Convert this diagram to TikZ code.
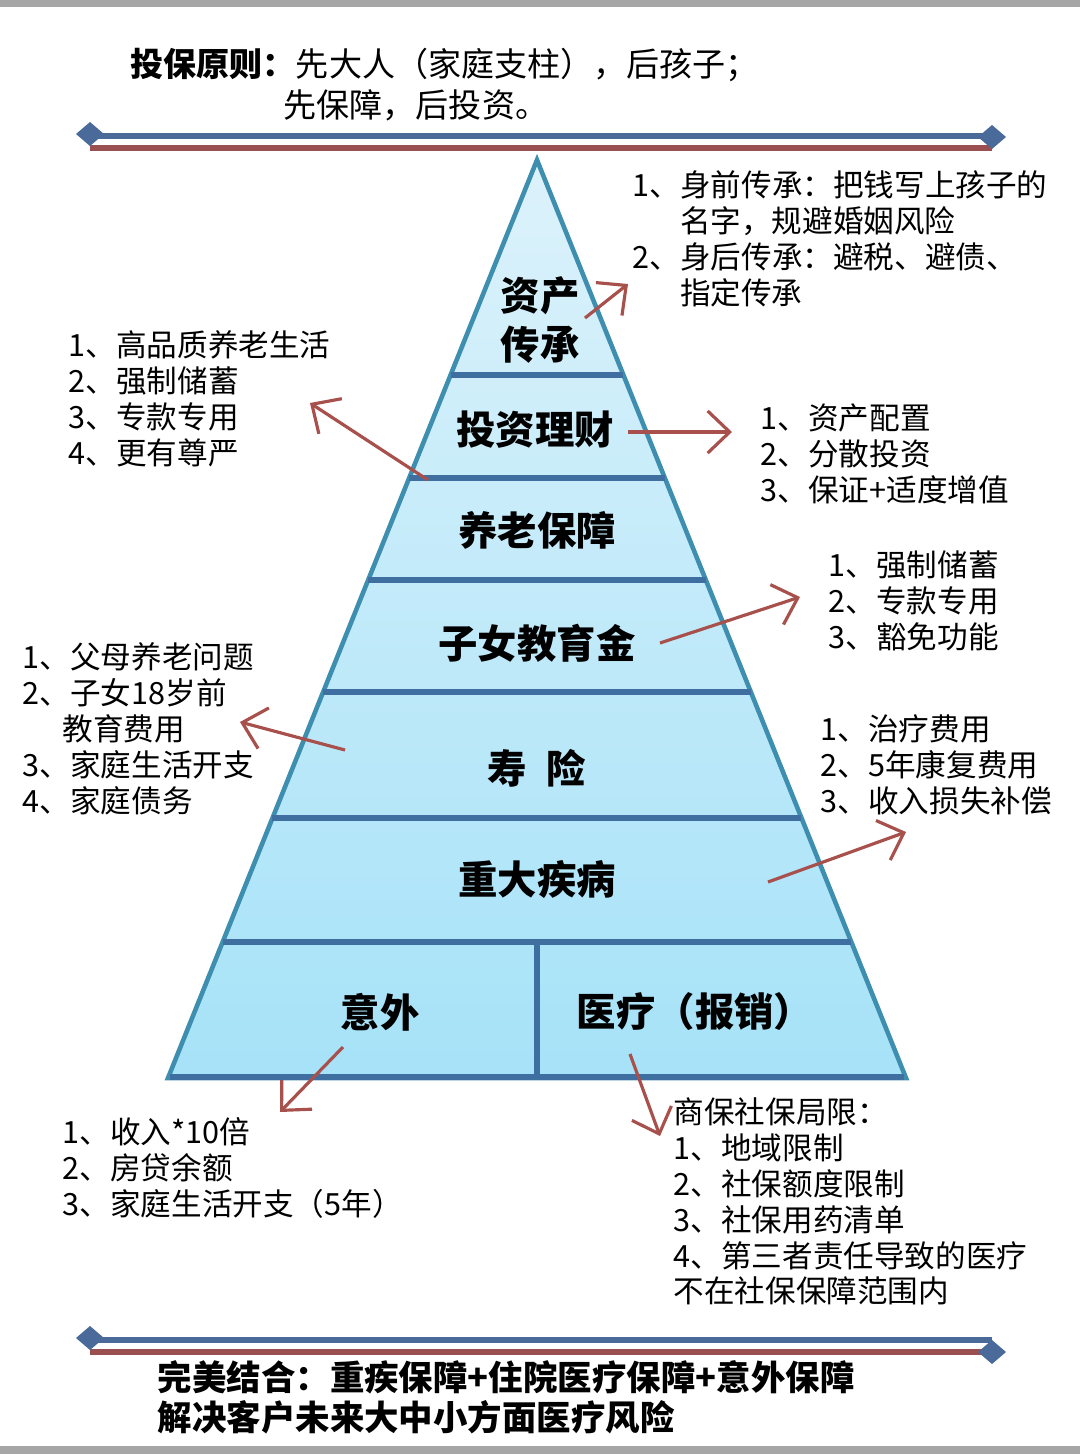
\documentclass[tikz,border=0pt]{standalone}
\usepackage{fontspec}
\newfontfamily\cjk{Noto Sans CJK SC}
\usetikzlibrary{arrows.meta,calc}
\definecolor{lb}{HTML}{4A6A9A}
\definecolor{lr}{HTML}{9A5050}
\definecolor{ar}{HTML}{A8504C}
\definecolor{edge}{HTML}{3E8EB0}
\definecolor{sep}{HTML}{3F6FA0}
\definecolor{ptop}{HTML}{DCF2FB}
\definecolor{pbot}{HTML}{A6E2F8}
\begin{document}
\begin{tikzpicture}[x=0.01cm,y=-0.01cm,
  lst/.style={font=\cjk\fontsize{8.7}{10.2}\selectfont,align=left,anchor=north west,inner sep=0pt},
  lab/.style={font=\cjk\bfseries\fontsize{11.2}{13.2}\selectfont,inner sep=0pt},
  arr/.style={draw=ar,line width=0.9pt,-{Straight Barb[length=2.2mm,width=4.2mm]}},
  sepl/.style={draw=sep,line width=1.6pt}]
\useasboundingbox (0,0) rectangle (1080,1454);
\fill[white] (0,0) rectangle (1080,1454);
\fill[gray!70] (0,0) rectangle (1080,7);
\fill[gray!70] (0,1446) rectangle (1080,1454);
% header
\node[anchor=west,inner sep=0pt,font=\cjk\fontsize{9.4}{11}\selectfont] (t1) at (130,65) {\textbf{投保原则：}先大人（家庭支柱），后孩子；};
\node[anchor=west,inner sep=0pt,font=\cjk\fontsize{9.4}{11}\selectfont] (t2) at (283,105) {先保障，后投资。};
% top rule
\draw[lb,line width=1.6pt] (90,136) -- (992,136);
\draw[lr,line width=1.6pt] (90,148) -- (992,148);
\fill[lb] (90,122) -- (104,134) -- (90,146) -- (76,134) -- cycle;
\fill[lb] (992,125) -- (1006,137) -- (992,149) -- (978,137) -- cycle;
% pyramid
\shade[top color=ptop,bottom color=pbot] (537,160) -- (906,1078) -- (168,1078) -- cycle;
\draw[edge,line width=1.3pt] (537,160) -- (906,1078) -- (168,1078) -- cycle;
\draw[sepl] (451,375) -- (623,375);
\draw[sepl] (409,478) -- (665,478);
\draw[sepl] (368,580) -- (706,580);
\draw[sepl] (323,692) -- (751,692);
\draw[sepl] (272,818) -- (801,818);
\draw[sepl] (223,942) -- (851,942);
\draw[sepl] (537,942) -- (537,1077);
\draw[sepl] (170,1077) -- (904,1077);
% labels
\node[lab,align=center] (l1) at (540,320) {资产\\[1pt]传承};
\node[lab] (l2) at (535,430) {投资理财};
\node[lab] (l3) at (537,530) {养老保障};
\node[lab] (l4) at (537,643) {子女教育金};
\node[lab] (l5) at (537,768) {寿\hspace{0.5em}险};
\node[lab] (l6) at (537,880) {重大疾病};
\node[lab] (l7) at (380,1012) {意外};
\node[lab] (l8) at (695,1012) {医疗（报销）};
% lists
\node[lst] (r1) at (632,170) {1、身前传承：把钱写上孩子的\\\hspace{1.55em}名字，规避婚姻风险\\2、身后传承：避税、避债、\\\hspace{1.55em}指定传承};
\node[lst] (b1) at (68,330) {1、高品质养老生活\\2、强制储蓄\\3、专款专用\\4、更有尊严};
\node[lst] (b2) at (760,403) {1、资产配置\\2、分散投资\\3、保证+适度增值};
\node[lst] (b3) at (828,550) {1、强制储蓄\\2、专款专用\\3、豁免功能};
\node[lst] (b4) at (22,642) {1、父母养老问题\\2、子女18岁前\\\hspace{1.3em}教育费用\\3、家庭生活开支\\4、家庭债务};
\node[lst] (b5) at (820,714) {1、治疗费用\\2、5年康复费用\\3、收入损失补偿};
\node[lst] (b6) at (62,1117) {1、收入*10倍\\2、房贷余额\\3、家庭生活开支（5年）};
\node[lst] (b7) at (673,1097) {商保社保局限：\\1、地域限制\\2、社保额度限制\\3、社保用药清单\\4、第三者责任导致的医疗\\不在社保保障范围内};
% arrows
\coordinate (a1s) at (585,318); \coordinate (a1e) at (628,284);
\draw[arr] (a1s) -- (a1e);
\coordinate (a2s) at (628,432); \coordinate (a2e) at (732,432);
\draw[arr] (a2s) -- (a2e);
\coordinate (a3s) at (428,480); \coordinate (a3e) at (310,403);
\draw[arr] (a3s) -- (a3e);
\coordinate (a4s) at (660,643); \coordinate (a4e) at (800,597);
\draw[arr] (a4s) -- (a4e);
\coordinate (a5s) at (345,750); \coordinate (a5e) at (240,722);
\draw[arr] (a5s) -- (a5e);
\coordinate (a6s) at (768,882); \coordinate (a6e) at (906,832);
\draw[arr] (a6s) -- (a6e);
\coordinate (a7s) at (343,1047); \coordinate (a7e) at (280,1112);
\draw[arr] (a7s) -- (a7e);
\coordinate (a8s) at (630,1054); \coordinate (a8e) at (660,1136);
\draw[arr] (a8s) -- (a8e);
% bottom rule
\draw[lb,line width=1.6pt] (90,1340) -- (992,1340);
\draw[lr,line width=1.6pt] (90,1352) -- (992,1352);
\fill[lb] (90,1326) -- (104,1338) -- (90,1350) -- (76,1338) -- cycle;
\fill[lb] (992,1340) -- (1006,1352) -- (992,1364) -- (978,1352) -- cycle;
\node[anchor=north west,inner sep=0pt,align=left,font=\cjk\bfseries\fontsize{9.8}{11.4}\selectfont] (bt) at (157,1360) {完美结合：重疾保障+住院医疗保障+意外保障\\解决客户未来大中小方面医疗风险};
\end{tikzpicture}
\end{document}
